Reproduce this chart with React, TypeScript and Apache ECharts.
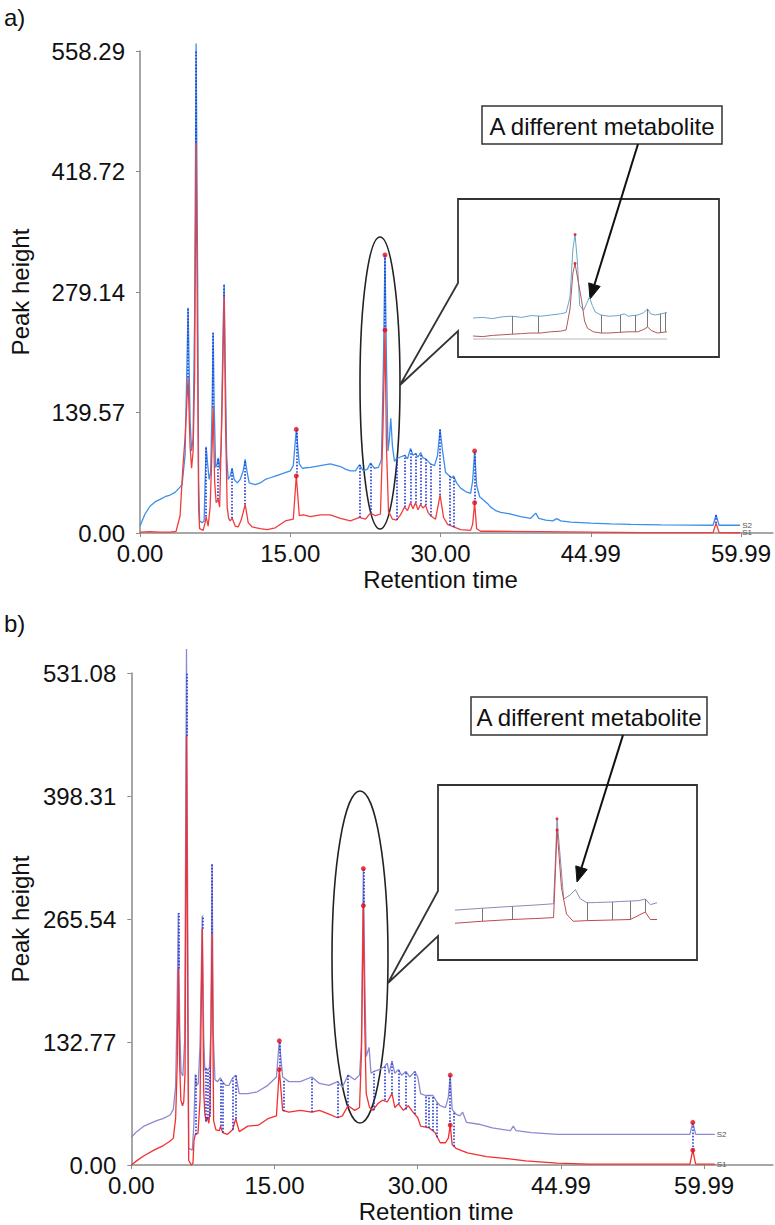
import React, { useEffect, useRef } from "react";
import * as echarts from "echarts";

const FONT = "'Liberation Sans', Arial, Helvetica, sans-serif";

// ---------- axes ----------
const X_INTERVAL = 14.9975;
const A_X_MAX = 63.18;
const B_X_MAX = 67.2;
const X_TICKS = [0, 14.9975, 29.995, 44.9925, 59.99];
const X_TICK_LABELS = ["0.00", "15.00", "30.00", "44.99", "59.99"];

const A_Y_INTERVAL = 139.5725;
const A_Y_TICKS = [0, 139.5725, 279.145, 418.7175, 558.29];
const A_Y_TICK_LABELS = ["0.00", "139.57", "279.14", "418.72", "558.29"];

const B_Y_INTERVAL = 132.77;
const B_Y_TICKS = [0, 132.77, 265.54, 398.31, 531.08];
const B_Y_TICK_LABELS = ["0.00", "132.77", "265.54", "398.31", "531.08"];

// ---------- panel a : [retention time, peak height] ----------
const A_S2 = [
  [0, 8], [0.5, 22], [1, 31], [1.5, 36], [2, 39], [2.5, 42], [3, 44], [3.5, 47], [3.9, 52], [4.2, 56],
  [4.5, 90], [4.8, 261], [5.0, 130], [5.15, 95], [5.3, 110], [5.45, 250], [5.6, 567], [5.75, 300],
  [5.85, 60], [5.95, 14], [6.2, 12], [6.4, 14], [6.5, 60], [6.6, 100], [6.75, 80], [6.9, 62], [7.05, 70],
  [7.2, 150], [7.3, 232], [7.4, 150], [7.55, 76], [7.7, 80], [7.8, 87], [7.95, 74], [8.1, 100], [8.3, 240],
  [8.4, 288], [8.5, 200], [8.65, 90], [8.8, 62], [9.0, 66], [9.2, 75], [9.4, 62], [9.7, 58], [10.0, 62],
  [10.3, 72], [10.5, 85], [10.7, 70], [10.9, 58], [11.5, 56], [12.0, 58], [12.5, 62], [13.0, 64],
  [13.5, 66], [14.0, 68], [14.5, 70], [15.0, 72], [15.3, 78], [15.6, 120], [15.9, 80], [16.2, 75],
  [17, 76], [18, 78], [19, 80], [20, 77], [20.5, 74], [21, 72], [21.5, 72], [21.9, 79], [22.3, 72],
  [22.7, 74], [23.0, 81], [23.4, 75], [23.8, 76], [24.1, 85], [24.3, 200], [24.45, 322], [24.6, 200],
  [24.75, 95], [24.9, 110], [25.03, 133], [25.2, 100], [25.4, 83], [25.6, 86], [26.0, 88], [26.4, 90],
  [26.7, 86], [27.0, 98], [27.25, 90], [27.5, 92], [27.75, 88], [28.0, 93], [28.25, 87], [28.5, 86],
  [28.75, 83], [29.0, 80], [29.4, 78], [29.7, 90], [29.95, 120], [30.2, 95], [30.5, 70], [30.9, 66],
  [31.1, 64], [31.3, 66], [31.6, 58], [32.0, 52], [32.5, 48], [33.0, 46], [33.2, 60], [33.4, 95],
  [33.6, 55], [33.9, 42], [34.3, 38], [34.7, 34], [35.0, 30], [35.5, 26], [36, 24], [37, 22], [38, 19],
  [39.0, 17], [39.5, 23], [39.8, 17], [40.5, 15], [41.2, 14], [41.6, 16.6], [42, 14], [43, 12.7],
  [45, 11.5], [47, 10.5], [49, 10], [52, 9.5], [55, 9.2], [57.2, 9], [57.5, 20.8], [57.8, 9], [59.9, 9],
];

const A_S1 = [
  [0, 1], [1, 1.5], [2, 1], [3, 1], [3.6, 2], [4.0, 20], [4.3, 80], [4.5, 110], [4.8, 180], [5.0, 100],
  [5.15, 75], [5.3, 95], [5.45, 180], [5.6, 452], [5.75, 200], [5.85, 30], [5.95, 5], [6.3, 3], [6.5, 12],
  [6.6, 19], [6.8, 8], [7.0, 30], [7.2, 100], [7.3, 145], [7.45, 60], [7.6, 35], [7.8, 39], [7.95, 30],
  [8.2, 150], [8.4, 274], [8.55, 120], [8.7, 30], [8.85, 17], [9.0, 14], [9.2, 17], [9.5, 8], [9.8, 7],
  [10.1, 15], [10.5, 33], [10.8, 12], [11.2, 7], [12, 5], [12.7, 4], [13.5, 6], [14.5, 14], [15.3, 16],
  [15.6, 66], [15.9, 20], [16.3, 21], [17, 19], [18, 21], [19, 21], [20, 17], [21, 14], [21.9, 18],
  [22.5, 16], [23.0, 23], [23.5, 20], [24.0, 22], [24.25, 120], [24.45, 235], [24.6, 100], [24.8, 25],
  [25.2, 16], [25.6, 15], [26.0, 21], [26.4, 30], [26.7, 26], [27.0, 35], [27.25, 28], [27.5, 35],
  [27.75, 27], [28.0, 33], [28.25, 29], [28.5, 32], [28.75, 24], [29.0, 20], [29.5, 16], [29.95, 44],
  [30.3, 18], [30.7, 10], [30.9, 9], [31.3, 7], [32, 4], [33.0, 3], [33.2, 10], [33.4, 35], [33.6, 5],
  [34, 2], [35, 2], [40, 1.5], [50, 0.5], [57.2, 0.5], [57.5, 11.5], [57.8, 0.5], [59.9, 0.3],
];

// matched peaks: [time, S1 height, S2 height]
const A_LINKS = [
  [4.8, 180, 261], [5.6, 452, 567], [6.6, 19, 100], [7.3, 145, 232], [7.8, 39, 87], [8.4, 274, 288],
  [9.2, 17, 75], [10.5, 33, 85], [15.6, 66, 120], [21.9, 18, 79], [23.0, 23, 81], [24.45, 235, 322],
  [25.6, 15, 86], [26.4, 30, 90], [27.0, 35, 98], [27.5, 35, 92], [28.0, 33, 93], [28.5, 32, 86],
  [29.0, 20, 80], [29.95, 44, 120], [30.9, 9, 66], [31.3, 7, 66], [33.4, 35, 95], [57.5, 11.5, 20.8],
];
const A_MARKS = [[15.6, 120], [15.6, 66], [24.45, 322], [24.45, 235], [33.4, 95], [33.4, 35]];

// ---------- panel b ----------
const B_S2 = [
  [0, 30], [0.57, 36], [1.33, 42], [1.99, 45], [2.65, 48], [3.31, 50], [4.07, 54], [4.4, 60], [4.64, 85],
  [4.78, 160], [4.92, 272], [5.07, 150], [5.21, 100], [5.4, 96], [5.59, 135], [5.78, 557], [5.92, 241],
  [6.01, 18], [6.39, 16], [6.56, 45], [6.7, 98], [6.84, 86], [7.01, 88], [7.2, 130], [7.43, 269],
  [7.58, 140], [7.7, 102], [7.84, 105], [8.01, 102], [8.18, 105], [8.33, 145], [8.46, 325], [8.59, 140],
  [8.76, 92], [9.04, 90], [9.32, 94], [9.56, 90], [9.9, 86], [10.23, 86], [10.61, 94], [10.94, 97],
  [11.3, 77], [12.2, 77], [13.2, 79], [14.3, 86], [15.2, 95], [15.5, 134], [15.85, 95], [16.5, 90],
  [17.7, 90], [18.9, 95], [19.7, 88], [20.7, 86], [21.6, 90], [22.1, 84], [22.7, 97], [23.4, 92],
  [23.9, 97], [24.1, 130], [24.3, 320], [24.45, 200], [24.6, 117], [24.9, 127], [25.1, 99], [25.4, 101],
  [25.95, 103], [26.5, 106], [26.8, 110], [27.0, 99], [27.3, 112], [27.6, 99], [27.97, 103], [28.3, 97],
  [28.75, 101], [29.15, 95], [29.7, 101], [30.0, 95], [30.3, 77], [30.8, 75], [31.2, 75], [31.6, 75],
  [32.0, 68], [32.35, 64], [32.9, 62], [33.2, 73], [33.4, 97], [33.6, 60], [34.0, 55], [34.4, 53],
  [34.7, 57], [35.1, 46], [36.4, 44], [37.8, 40], [39.7, 37], [40.0, 42], [40.3, 37], [41.9, 35],
  [44.6, 33], [48, 33], [51.4, 33], [55, 33], [58.5, 33], [58.8, 46], [59.1, 33], [61.1, 33],
];

const B_S1 = [
  [0, 0], [0.62, 5], [1.33, 10], [2.37, 16], [3.36, 21], [4.07, 26], [4.4, 29], [4.64, 50], [4.81, 110],
  [4.92, 212], [5.06, 110], [5.19, 70], [5.36, 64], [5.49, 68], [5.63, 100], [5.78, 463], [5.92, 150],
  [6.01, 5], [6.29, 0], [6.46, 2], [6.56, 26], [6.7, 33], [6.98, 34], [7.2, 70], [7.43, 255], [7.58, 80],
  [7.7, 55], [7.84, 47], [7.95, 52], [8.12, 45], [8.24, 58], [8.46, 250], [8.62, 48], [8.86, 38],
  [9.21, 37], [9.35, 42], [9.56, 35], [10.04, 33], [10.61, 38], [10.94, 50], [11.3, 36], [12.2, 42],
  [13.3, 43], [14.3, 50], [15.2, 53], [15.5, 103], [15.85, 59], [16.5, 57], [17.7, 59], [18.9, 57],
  [19.7, 59], [20.7, 55], [21.6, 51], [22.1, 53], [22.7, 64], [23.4, 59], [23.9, 62], [24.1, 120],
  [24.3, 280], [24.45, 150], [24.6, 77], [24.95, 62], [25.3, 59], [25.8, 66], [26.3, 70], [26.8, 68],
  [27.3, 77], [27.6, 62], [27.97, 66], [28.5, 59], [29.0, 64], [29.5, 57], [30.0, 51], [30.3, 42],
  [31.2, 40], [31.8, 35], [32.35, 24], [32.9, 24], [33.2, 29], [33.4, 43], [33.6, 22], [34.0, 18],
  [35.2, 13], [37.2, 9], [39.6, 6.6], [41.3, 4.4], [44.6, 2], [48, 1], [58.5, 1], [58.8, 16], [59.1, 1],
  [61.1, 1],
];

const B_LINKS = [
  [4.92, 212, 272], [5.78, 463, 557], [6.7, 33, 98], [7.43, 255, 269], [7.84, 47, 105], [8.01, 50, 102],
  [8.18, 52, 105], [8.46, 250, 325], [9.32, 42, 94], [9.56, 35, 90], [10.61, 38, 94], [10.94, 50, 97],
  [15.5, 103, 134], [16.0, 58, 92], [18.9, 57, 95], [21.6, 51, 90], [22.7, 64, 97], [24.3, 280, 320],
  [25.4, 59, 101], [26.5, 70, 106], [27.3, 77, 112], [27.97, 66, 103], [28.75, 60, 101], [29.7, 55, 101],
  [30.8, 41, 75], [31.2, 40, 75], [31.6, 37, 75], [32.0, 30, 68], [33.4, 43, 97], [33.8, 20, 57],
  [58.8, 16, 46],
];
const B_MARKS = [[15.5, 134], [15.5, 103], [24.3, 320], [24.3, 280], [33.4, 97], [33.4, 43], [58.8, 46], [58.8, 16]];

// ---------- insets (enlarged view, relative units 0-100) ----------
const INSET_A_S2 = [
  [0, 22.5], [5, 23], [10, 22], [15, 23.5], [20, 24], [25, 23], [30, 24.5], [35, 24], [40, 25], [45, 26],
  [48, 27], [50, 40], [51.5, 80], [52.6, 92], [53.8, 70], [55, 33], [57, 29], [59, 36], [60, 40], [61.5, 33],
  [63, 27.5], [66, 25], [70, 24], [75, 24.5], [78, 26], [80, 24], [85, 25], [88, 27], [90, 30], [91.5, 26],
  [94, 25], [97, 26], [100, 27],
];
const INSET_A_S1 = [
  [0, 7.5], [5, 7], [10, 8], [15, 8.5], [20, 9], [25, 9.5], [30, 10], [35, 10], [40, 11], [45, 11.5],
  [48, 12.5], [50, 30], [51.5, 60], [52.6, 68], [54, 55], [56, 37], [57.5, 20], [59, 14], [62, 11], [66, 10],
  [70, 10], [75, 10.5], [80, 11], [85, 11], [88, 13], [90, 15], [92, 12], [95, 10], [100, 11],
];
const INSET_A_BASE = [[0, 5], [100, 5]];
const INSET_A_LINKS = [[20, 9, 24], [33.5, 10, 24], [66, 10, 25], [76, 10.5, 25], [83.5, 11, 25], [89.7, 15, 30], [96.4, 10, 26], [99, 11, 27]];
const INSET_A_MARKS = [[52.6, 92], [52.6, 68]];

const INSET_B_S2 = [
  [0, 15.9], [13.3, 17.4], [28.2, 18.9], [40, 20], [48.8, 21], [49.8, 60], [50.5, 89], [51.5, 70],
  [53.8, 24.8], [57, 28], [59.6, 32.3], [62, 25], [65.3, 21.8], [70, 22], [77.7, 22.4], [82, 22.8],
  [86.8, 23.2], [91, 23.5], [94.2, 24.8], [96.7, 20.3], [100, 21.8],
];
const INSET_B_S1 = [
  [0, 5.4], [13.3, 7], [28.2, 8.4], [40, 9.2], [48.8, 9.9], [49.8, 50], [50.5, 80], [51.5, 60], [52.7, 33.8],
  [55.2, 12.8], [58.5, 7], [65.3, 7.5], [77.7, 8], [86.8, 8.4], [94.2, 14.4], [96.7, 8.4], [100, 8.4],
];
const INSET_B_LINKS = [[13.3, 7, 17.4], [28.2, 8.4, 18.9], [65.3, 7.5, 21.8], [77.7, 8, 22.4], [86.8, 8.4, 23.2], [94.2, 14.4, 24.8]];
const INSET_B_MARKS = [[50.5, 89], [50.5, 80]];

// ---------- annotation text ----------
const PANEL_LABELS = ["a)", "b)"];
const NOTE = "A different metabolite";

const pick = (ticks: number[], labels: string[]) => (v: number) => {
  const i = ticks.findIndex((t) => Math.abs(t - v) < 1e-3);
  return i >= 0 ? labels[i] : "";
};

const AXIS_COLOR = "#8a8a8a";

function mainX(gi: number, max: number) {
  return {
    type: "value",
    gridIndex: gi,
    min: 0,
    max,
    interval: X_INTERVAL,
    axisLine: { show: true, onZero: false, lineStyle: { color: AXIS_COLOR, width: 1.5 } },
    axisTick: { show: true, length: 4, lineStyle: { color: AXIS_COLOR }, customValues: X_TICKS },
    axisLabel: { fontSize: 24, color: "#111", fontFamily: FONT, margin: 8, formatter: pick(X_TICKS, X_TICK_LABELS), customValues: X_TICKS },
    splitLine: { show: false },
    name: "Retention time",
    nameLocation: "middle",
    nameGap: 34,
    nameTextStyle: { fontSize: 24, color: "#111", fontFamily: FONT, padding: [0, 32, 0, 0] },
  };
}

function mainY(gi: number, max: number, interval: number, ticks: number[], labels: string[], nameGap: number) {
  return {
    type: "value",
    gridIndex: gi,
    min: 0,
    max,
    interval,
    axisLine: { show: true, onZero: false, lineStyle: { color: AXIS_COLOR, width: 1.5 } },
    axisTick: { show: true, length: 4, lineStyle: { color: AXIS_COLOR }, customValues: ticks },
    axisLabel: { fontSize: 24, color: "#111", fontFamily: FONT, margin: 15, formatter: pick(ticks, labels), customValues: ticks },
    splitLine: { show: false },
    name: "Peak height",
    nameLocation: "middle",
    nameRotate: 90,
    nameGap,
    nameTextStyle: { fontSize: 24, color: "#111", fontFamily: FONT },
  };
}

const hiddenAxis = (gi: number) => ({ type: "value", gridIndex: gi, min: 0, max: 100, show: false });

function line(data: number[][], color: string, idx: number, width: number, endText?: string) {
  return {
    type: "line",
    xAxisIndex: idx,
    yAxisIndex: idx,
    data,
    showSymbol: false,
    symbol: "none",
    clip: false,
    silent: true,
    lineStyle: { color, width },
    z: 2,
    endLabel: endText
      ? { show: true, formatter: endText, fontSize: 8, color: "#555", fontFamily: FONT, distance: 2 }
      : { show: false },
  };
}

function links(rows: number[][], idx: number, color: string, width: number, type: string) {
  return {
    type: "lines",
    coordinateSystem: "cartesian2d",
    xAxisIndex: idx,
    yAxisIndex: idx,
    silent: true,
    z: 4,
    lineStyle: { color, width, type, opacity: 1 },
    data: rows.map(([t, a, b]) => ({ coords: [[t, a], [t, b]] })),
  };
}

function marks(data: number[][], idx: number, size: number) {
  return {
    type: "scatter",
    xAxisIndex: idx,
    yAxisIndex: idx,
    data,
    symbol: "circle",
    symbolSize: size,
    clip: false,
    silent: true,
    itemStyle: { color: "#e0101e" },
    z: 5,
  };
}

function arrow(x1: number, y1: number, x2: number, y2: number) {
  const dx = x2 - x1;
  const dy = y2 - y1;
  const L = Math.sqrt(dx * dx + dy * dy);
  const ux = dx / L;
  const uy = dy / L;
  const hl = 15;
  const hw = 6;
  const bx = x2 - ux * hl;
  const by = y2 - uy * hl;
  return [
    { type: "line", shape: { x1, y1, x2: bx, y2: by }, style: { stroke: "#111", lineWidth: 2 } },
    {
      type: "polygon",
      shape: { points: [[x2, y2], [bx - uy * hw, by + ux * hw], [bx + uy * hw, by - ux * hw]] },
      style: { fill: "#111", stroke: "#111" },
    },
  ];
}

function callout(l: number, t: number, r: number, b: number, upper: number, lower: number, tipX: number, tipY: number) {
  return {
    type: "polygon",
    shape: { points: [[l, t], [r, t], [r, b], [l, b], [l, lower], [tipX, tipY], [l, upper]] },
    style: { fill: "none", stroke: "#333", lineWidth: 1.8 },
  };
}

function noteBox(l: number, t: number, w: number, h: number) {
  return [
    { type: "rect", shape: { x: l, y: t, width: w, height: h }, style: { fill: "#fff", stroke: "#333", lineWidth: 1.5 } },
    {
      type: "text",
      x: l + w / 2,
      y: t + h / 2 + 1,
      style: { text: NOTE, fontSize: 24, fontFamily: FONT, fill: "#111", align: "center", verticalAlign: "middle" },
    },
  ];
}

export default function App() {
  const ref = useRef<HTMLDivElement>(null);

  useEffect(() => {
    if (!ref.current) return;
    const chart = echarts.init(ref.current, undefined, { renderer: "svg" });
    const option: any = {
      animation: false,
      backgroundColor: "#ffffff",
      textStyle: { fontFamily: FONT },
      grid: [
        { left: 133, top: 51, width: 640, height: 482 },
        { left: 121, top: 673, width: 652, height: 492 },
        { left: 473, top: 225, width: 194, height: 120 },
        { left: 455, top: 805, width: 202, height: 125 },
      ],
      xAxis: [mainX(0, A_X_MAX), mainX(1, B_X_MAX), hiddenAxis(2), hiddenAxis(3)],
      yAxis: [
        mainY(0, 558.29, A_Y_INTERVAL, A_Y_TICKS, A_Y_TICK_LABELS, 108),
        mainY(1, 531.08, B_Y_INTERVAL, B_Y_TICKS, B_Y_TICK_LABELS, 96),
        hiddenAxis(2),
        hiddenAxis(3),
      ],
      series: [
        line(A_S2, "#3b8fe8", 0, 1.3, "S2"),
        line(A_S1, "#f23c3c", 0, 1.3, "S1"),
        links(A_LINKS, 0, "#2436d6", 1.6, "dotted"),
        marks(A_MARKS, 0, 5),
        line(B_S2, "#8a8ad0", 1, 1.3, "S2"),
        line(B_S1, "#f23030", 1, 1.3, "S1"),
        links(B_LINKS, 1, "#2436d6", 1.6, "dotted"),
        marks(B_MARKS, 1, 5),
        line(INSET_A_BASE, "#b8b8b8", 2, 1),
        line(INSET_A_S2, "#6aa6c4", 2, 1),
        line(INSET_A_S1, "#b05858", 2, 1),
        links(INSET_A_LINKS, 2, "#777777", 1, "solid"),
        marks(INSET_A_MARKS, 2, 3),
        line(INSET_B_S2, "#8c8cb4", 3, 1),
        line(INSET_B_S1, "#c04a4a", 3, 1),
        links(INSET_B_LINKS, 3, "#777777", 1, "solid"),
        marks(INSET_B_MARKS, 3, 3),
      ],
      graphic: [
        { type: "text", x: 4, y: 5, style: { text: PANEL_LABELS[0], fontSize: 24, fontFamily: FONT, fill: "#111" } },
        { type: "text", x: 4, y: 611, style: { text: PANEL_LABELS[1], fontSize: 24, fontFamily: FONT, fill: "#111" } },
        // panel a annotations
        { type: "ellipse", shape: { cx: 380, cy: 383, rx: 20, ry: 146 }, style: { fill: "none", stroke: "#222", lineWidth: 1.6 } },
        callout(458, 199, 719, 357, 283, 331, 400, 385),
        ...noteBox(482, 106, 240, 38),
        ...arrow(638, 144, 590, 299),
        // panel b annotations
        { type: "ellipse", shape: { cx: 360, cy: 957, rx: 28, ry: 166 }, style: { fill: "none", stroke: "#222", lineWidth: 1.6 } },
        callout(438, 785, 697, 960, 891, 936, 388, 983),
        ...noteBox(471, 697, 236, 38),
        ...arrow(623, 735, 577, 882),
      ],
    };
    chart.setOption(option);
    return () => chart.dispose();
  }, []);

  return (
    <div
      ref={ref}
      style={{ position: "absolute", left: 0, top: 0, width: 775, height: 1225, background: "#fff" }}
    />
  );
}
